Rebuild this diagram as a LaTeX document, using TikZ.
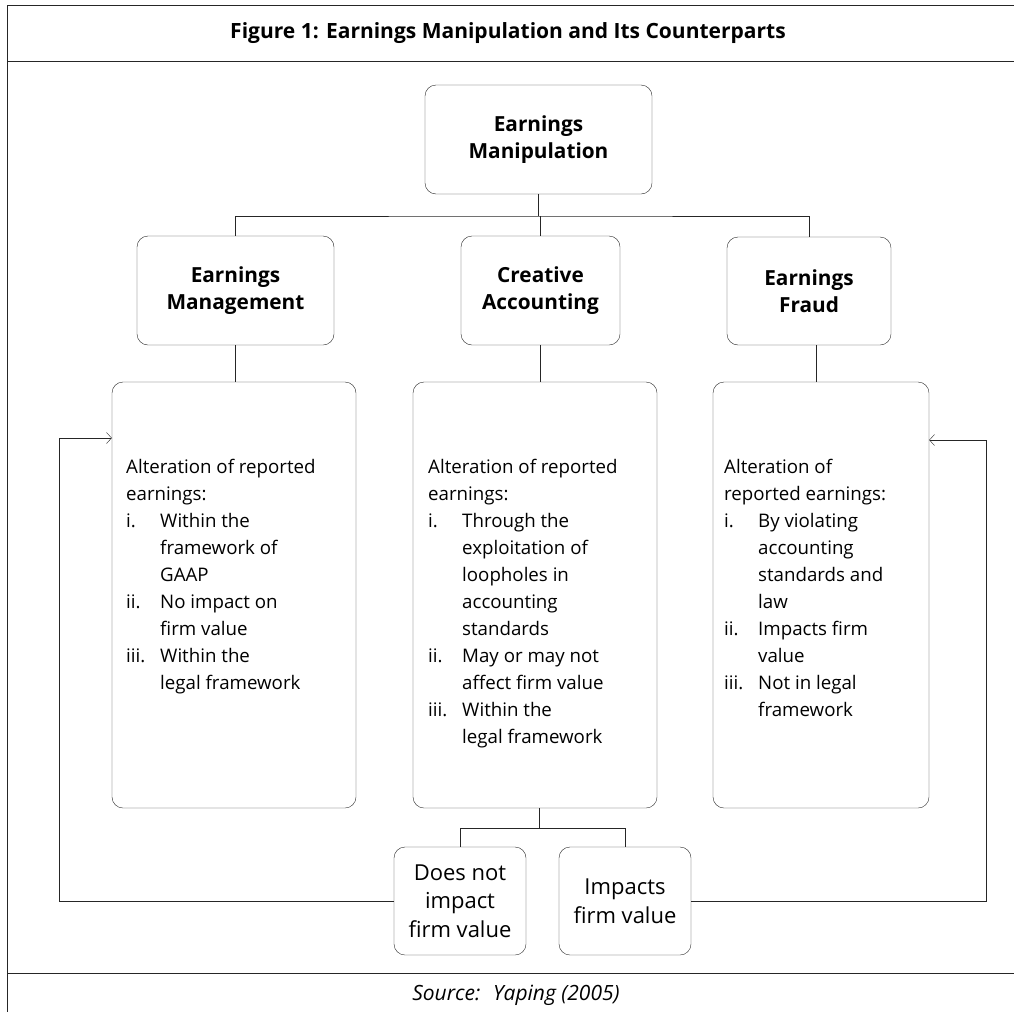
\documentclass[tikz,border=0pt]{standalone}
\usepackage{fontspec}
\setmainfont{Open Sans}
\usetikzlibrary{positioning, arrows.meta}
\tikzset{
    x=1pt, y=-1pt, % pixel units, y grows downwards
    >={Straight Barb[length=5pt, width=11pt]}, % thin open arrow heads
    line width=1.6pt,
    head/.style={draw=black!85, rounded corners=11pt, align=center, inner sep=0pt,
        font=\bfseries\fontsize{20.8}{27}\selectfont}, % bold title boxes
    textbox/.style={draw=black!85, rounded corners=11pt, inner sep=0pt}, % the tall boxes
    listtext/.style={anchor=north west, align=left, inner sep=0pt,
        font=\fontsize{18.7}{27}\selectfont}, % text inside the tall boxes
    leaf/.style={draw=black!85, rounded corners=11pt, align=center, inner sep=0pt,
        minimum width=132pt, minimum height=108pt, font=\fontsize{22}{28.5}\selectfont},
}
\newcommand{\lbl}[1]{\makebox[34pt][l]{#1}}
\newcommand{\ind}{\hspace*{34pt}}

\begin{document}
\begin{tikzpicture}
    \useasboundingbox (0,0) rectangle (1014,1012);
    % frame
    \draw[black!85] (1014,5) -- (7,5) -- (7,1012);
    \draw[black!85] (7,61) -- (1014,61);
    \draw[black!85] (7,973) -- (1014,973);
    \node[font=\bfseries\fontsize{21}{25}\selectfont] (title) at (508,33)
        {Figure 1: Earnings Manipulation and Its Counterparts};
    \node[font=\itshape\fontsize{21}{25}\selectfont] (source) at (516,995) {Source: \ Yaping (2005)};

    % boxes
    \node[head, minimum width=227pt, minimum height=109pt] (manip) at (538.5,139.5) {Earnings\\Manipulation};
    \node[head, minimum width=197pt, minimum height=109pt] (mgmt) at (235.5,290.5) {Earnings\\Management};
    \node[head, minimum width=159pt, minimum height=109pt] (creative) at (540.5,290.5) {Creative\\Accounting};
    \node[head, minimum width=164pt, minimum height=108pt] (fraud) at (809,291) {Earnings\\Fraud};

    \node[textbox, minimum width=244pt, minimum height=426pt] (mgmtbox) at (234,595) {};
    \node[textbox, minimum width=244pt, minimum height=426pt] (creativebox) at (535,595) {};
    \node[textbox, minimum width=216pt, minimum height=426pt] (fraudbox) at (821,595) {};

    \node[listtext] (mgmttext) at (126,459) {Alteration of reported\\earnings:\\
        \lbl{i.}Within the\\\ind framework of\\\ind GAAP\\
        \lbl{ii.}No impact on\\\ind firm value\\
        \lbl{iii.}Within the\\\ind legal framework};
    \node[listtext] (creativetext) at (428,459) {Alteration of reported\\earnings:\\
        \lbl{i.}Through the\\\ind exploitation of\\\ind loopholes in\\\ind accounting\\\ind standards\\
        \lbl{ii.}May or may not\\\ind affect firm value\\
        \lbl{iii.}Within the\\\ind legal framework};
    \node[listtext] (fraudtext) at (724,459) {Alteration of\\reported earnings:\\
        \lbl{i.}By violating\\\ind accounting\\\ind standards and\\\ind law\\
        \lbl{ii.}Impacts firm\\\ind value\\
        \lbl{iii.}Not in legal\\\ind framework};

    \node[leaf] (noimpact) at (460,901) {Does not\\impact\\firm value};
    \node[leaf] (impacts) at (625,901) {Impacts\\firm value};

    % connectors
    \coordinate (topbar) at (538.5,216);
    \coordinate (botbar) at (539,828);
    \coordinate (leftturn) at (59,438);
    \coordinate (rightturn) at (986,440);
    \draw[black!85] (manip.south) -- (topbar);
    \draw[black!85] (mgmt.north) |- (topbar) -| (fraud.north);
    \draw[black!85] (creative.north) -- (creative.north |- topbar);
    \draw[black!85] (mgmt.south) -- (mgmt.south |- mgmtbox.north);
    \draw[black!85] (creative.south) -- (creative.south |- creativebox.north);
    \draw[black!85] (fraud.south -| 816,0) -- (816,0 |- fraudbox.north);
    \draw[black!85] (creativebox.south -| botbar) -- (botbar);
    \draw[black!85] (noimpact.north) |- (botbar) -| (impacts.north);
    \draw[black!85, ->] (noimpact.west) -| (leftturn) -- (leftturn -| mgmtbox.west);
    \draw[black!85, ->] (impacts.east) -| (rightturn) -- (rightturn -| fraudbox.east);
\end{tikzpicture}
\end{document}
